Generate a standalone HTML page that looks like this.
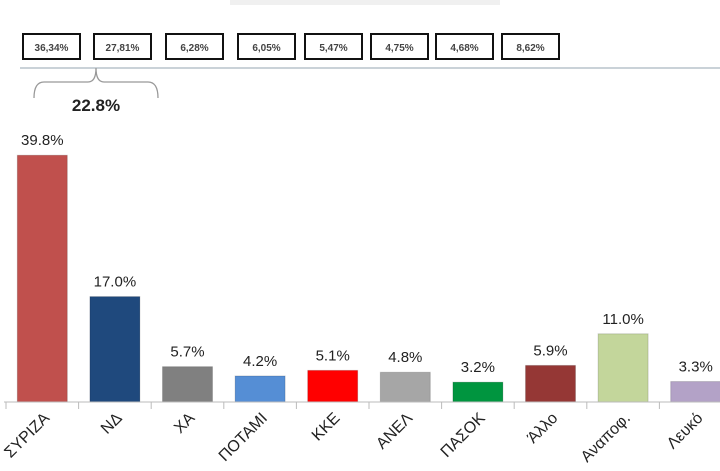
<!DOCTYPE html>
<html><head><meta charset="utf-8"><style>
body{margin:0;background:#fff;width:720px;height:466px;overflow:hidden;font-family:"Liberation Sans","DejaVu Sans",sans-serif}
</style></head><body>
<svg width="720" height="466">
<rect x="230" y="0" width="270" height="5" fill="#f0f0f0"/>
<g id="boxes"></g>
<line x1="20" y1="68" x2="720" y2="68" stroke="#b8c4cc" stroke-width="1.5"/>
<path d="M34 98 Q34 82 44 82 L88 82 Q96 82 96 68 Q96 82 104 82 L148 82 Q158 82 158 98" fill="none" stroke="#999" stroke-width="1.3"/>
<text x="96" y="111" font-size="17" font-weight="bold" text-anchor="middle" fill="#222">22.8%</text>
<g id="bars"></g>
<line x1="4" y1="402" x2="720" y2="402" stroke="#bbb"/>
<g id="ticks"></g>
</svg>
<script>
const categories=["ΣΥΡΙΖΑ","ΝΔ","ΧΑ","ΠΟΤΑΜΙ","ΚΚΕ","ΑΝΕΛ","ΠΑΣΟΚ","Άλλο","Αναποφ.","Λευκό"];
const values=[39.8,17.0,5.7,4.2,5.1,4.8,3.2,5.9,11.0,3.3];
const colors=["#c0504d","#1f497d","#808080","#558ed5","#ff0000","#a6a6a6","#00953f","#953735","#c3d69b","#b3a2c7"];
const boxLabels=["36,34%","27,81%","6,28%","6,05%","5,47%","4,75%","4,68%","8,62%"];
const boxX=[23,94,166,238,305,371,436,502];
const NS="http://www.w3.org/2000/svg";
const base=402,scale=6.2,step=72.6,x0=6;
const xPos=i=>x0+i*step;
const yPos=v=>base-v*scale;
const bars=document.getElementById('bars'),ticks=document.getElementById('ticks'),boxes=document.getElementById('boxes');
function mk(t,a,p){const e=document.createElementNS(NS,t);for(const k in a)e.setAttribute(k,a[k]);p.appendChild(e);return e;}
boxLabels.forEach((l,i)=>{
 const g=mk('g',{},boxes);
 
 
 mk('rect',{x:boxX[i],y:34,width:57,height:25,fill:'#fff',stroke:'#111','stroke-width':2},g);
 const t=mk('text',{x:boxX[i]+28.5,y:51,'font-size':10,'font-weight':'bold','text-anchor':'middle',fill:'#444'},g);t.textContent=l;
});
categories.forEach((c,i)=>{
 const cx=xPos(i)+step/2,v=values[i];
 const r=mk('rect',{x:cx-25,y:yPos(v),width:50,height:base-yPos(v),fill:colors[i],stroke:'rgba(0,0,0,0.15)'},bars);
 
 
 const t=mk('text',{x:cx,y:yPos(v)-10,'font-size':15,'text-anchor':'middle',fill:'#222'},bars);
 t.textContent=v.toFixed(1)+'%';
 
 
 const tk=mk('line',{x1:xPos(i),y1:base,x2:xPos(i),y2:base+7,stroke:'#bbb'},ticks);
 
 
 const ax=cx+8,ay=base+17;
 const lb=mk('text',{x:ax,y:ay,'font-size':16,'text-anchor':'end',fill:'#222',transform:`rotate(-45 ${ax} ${ay})`},ticks);
 lb.textContent=c;
 
 
});
</script>
</body></html>
